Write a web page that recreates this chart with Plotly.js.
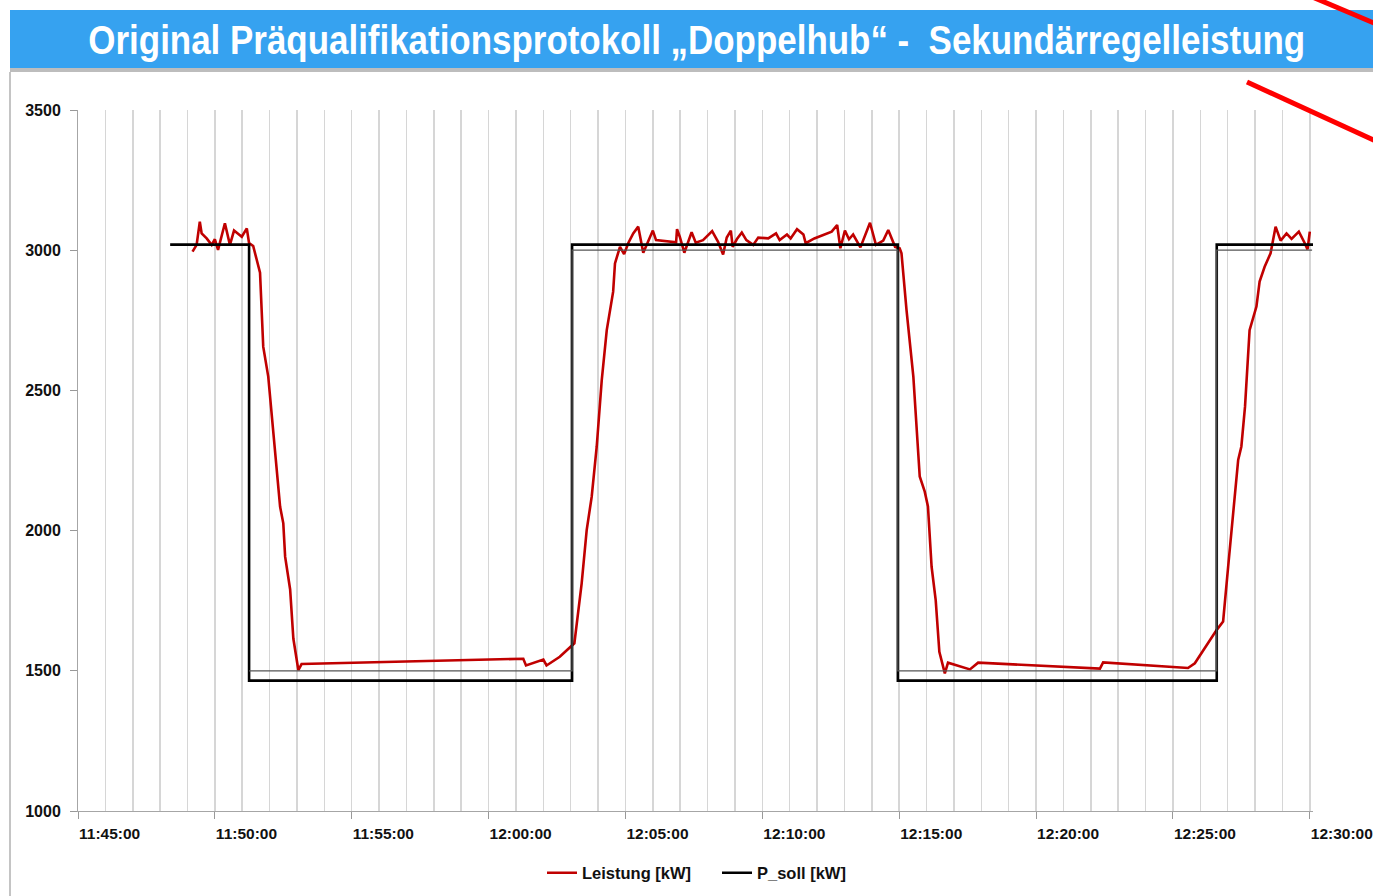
<!DOCTYPE html>
<html><head><meta charset="utf-8">
<script src="https://cdn.plot.ly/plotly-3.0.1.min.js"></script>
<style>html,body{margin:0;padding:0;background:#fff;} #chart{width:1373px;height:896px;}</style>
</head><body><div id="chart"></div>
<script>
const DAY = '2014-01-01 ';
const leistungZeit = ["11:49:11","11:49:20","11:49:27","11:49:31","11:49:42","11:49:53","11:50:00","11:50:07","11:50:22","11:50:33","11:50:42","11:50:59","11:51:10","11:51:15","11:51:24","11:51:39","11:51:46","11:51:57","11:52:23","11:52:30","11:52:34","11:52:45","11:52:52","11:52:58","11:53:03","11:53:10",
"12:01:16","12:01:22","12:02:00","12:02:07","12:02:36","12:03:08","12:03:24","12:03:35","12:03:46","12:03:57","12:04:08","12:04:19","12:04:26","12:04:33","12:04:37","12:04:48","12:04:57","12:05:06","12:05:17","12:05:28","12:05:39","12:05:50","12:06:00","12:06:07","12:06:51","12:06:53","12:06:59","12:07:09","12:07:25","12:07:34","12:07:50","12:08:10","12:08:23","12:08:34","12:08:42","12:08:51","12:08:55","12:09:04","12:09:15","12:09:25","12:09:40","12:09:51","12:10:13","12:10:30","12:10:38","12:10:54","12:11:02","12:11:16","12:11:30","12:11:35","12:11:54","12:12:32","12:12:44","12:12:51","12:13:01","12:13:10","12:13:19","12:13:35","12:13:56","12:14:09","12:14:25","12:14:36","12:14:51","12:15:01","12:15:05","12:15:16","12:15:31","12:15:45","12:15:56","12:16:03","12:16:11","12:16:20","12:16:28","12:16:40","12:16:47","12:17:35","12:17:53","12:22:20","12:22:27","12:25:33","12:25:48","12:26:36","12:26:50","12:27:01","12:27:12","12:27:23","12:27:30","12:27:38","12:27:48","12:28:03","12:28:10","12:28:21","12:28:34","12:28:38","12:28:45","12:28:56","12:29:09","12:29:20","12:29:36","12:29:49","12:29:55","12:30:00"];
const leistungKW = [2995,3019,3102,3060,3042,3019,3039,3001,3096,3019,3070,3048,3078,3025,3015,2920,2656,2549,2085,2026,1907,1790,1615,1555,1502,1524,
1543,1519,1540,1519,1550,1598,1812,2002,2121,2300,2537,2715,2787,2852,2953,3012,2986,3025,3060,3084,2991,3030,3070,3036,3028,3075,3048,2991,3064,3027,3036,3068,3030,2985,3045,3070,3012,3039,3063,3036,3019,3045,3042,3060,3036,3056,3042,3075,3056,3025,3042,3066,3090,3007,3070,3039,3056,3010,3098,3019,3034,3072,3012,3007,2989,2787,2549,2193,2139,2086,1871,1752,1568,1491,1529,1505,1529,1508,1530,1510,1527,1646,1676,1871,2050,2252,2300,2442,2715,2799,2888,2941,2989,3025,3084,3034,3060,3040,3066,3025,3003,3066];
const sollZeit = ["11:48:22","11:51:15","12:03:03","12:14:57","12:26:36","12:30:07"];
const sollKW = [3020,1465,3020,1465,3020,3020];
const refZeit = ["11:51:15","12:03:03","12:14:57","12:26:36","12:30:05"];
const refKW = [1500,3000,1500,3000,3000];
const yTicks = [1000,1500,2000,2500,3000,3500];
const seriesNames = ['Leistung [kW]','P_soll [kW]'];
const titleText = 'Original Präqualifikationsprotokoll „Doppelhub“ -\u00a0 Sekundärregelleistung';

const F = '"Liberation Sans",Arial,sans-serif';
const t = a => a.map(s => DAY + s);

const traces = [
  {x:t(leistungZeit), y:leistungKW, type:'scatter', mode:'lines', name:seriesNames[0],
   line:{color:'#C00000', width:2.6}},
  {x:t(sollZeit), y:sollKW, type:'scatter', mode:'lines', name:seriesNames[1],
   line:{color:'#000000', width:2.6, shape:'hv'}},
  {x:t(refZeit), y:refKW, type:'scatter', mode:'lines', showlegend:false, hoverinfo:'skip',
   line:{color:'#555555', width:1.2, shape:'hv'}}
];

const px = v => (v - 78) / 1235;
const py = v => (811 - v) / 701;

const layout = {
  width:1373, height:896,
  margin:{l:78, r:60, t:110, b:85, pad:0},
  paper_bgcolor:'#ffffff', plot_bgcolor:'#ffffff',
  showlegend:true,
  legend:{orientation:'h', xref:'container', yref:'container', x:717/1373, xanchor:'center', y:1 - 873/896, yanchor:'middle',
    entrywidth:130, entrywidthmode:'pixels',
    font:{family:F, size:16.5, weight:'bold', color:'#111'}, bgcolor:'rgba(0,0,0,0)'},
  xaxis:{type:'date', range:[DAY+'11:45:00', DAY+'12:30:07'], tick0:DAY+'11:45:00', dtick:300000,
    tickformat:'%H:%M:%S', ticks:'outside', ticklen:7, tickcolor:'#999', tickwidth:1,
    showline:true, linecolor:'#a6a6a6', linewidth:1, showgrid:true, gridcolor:'#d6d6d6', gridwidth:1.5,
    minor:{dtick:60000, showgrid:true, gridcolor:'#d6d6d6', gridwidth:1.5, ticks:''},
    ticklabelposition:'outside right', ticklabeloverflow:'allow', ticklabelstandoff:8,
    tickfont:{family:F, size:15.5, weight:'bold', color:'#111'},
    zeroline:false, fixedrange:true},
  yaxis:{range:[1000,3500], tickvals:yTicks, ticks:'outside', ticklen:7, tickcolor:'#999', tickwidth:1,
    showline:true, linecolor:'#a6a6a6', linewidth:1, showgrid:false, zeroline:false,
    ticklabelstandoff:6, tickfont:{family:F, size:16, weight:'bold', color:'#111'}, fixedrange:true},
  shapes:[
    {type:'rect', xref:'paper', yref:'paper', x0:px(10), x1:px(1400), y0:py(68), y1:py(10), fillcolor:'#36A2F0', line:{width:0}, layer:'above'},
    {type:'rect', xref:'paper', yref:'paper', x0:px(10), x1:px(1400), y0:py(72), y1:py(68), fillcolor:'#bdbdbd', line:{width:0}, layer:'above'},
    {type:'line', xref:'paper', yref:'paper', x0:px(10), x1:px(10), y0:py(72), y1:py(900), line:{color:'#c4c4c4', width:2}, layer:'above'},
    {type:'line', xref:'paper', yref:'paper', x0:px(1310), y0:py(-4), x1:px(1400), y1:py(34), line:{color:'#FF0000', width:5}, layer:'above'},
    {type:'line', xref:'paper', yref:'paper', x0:px(1247), y0:py(82), x1:px(1400), y1:py(152), line:{color:'#FF0000', width:5}, layer:'above'}
  ],
  annotations:[
    {text:titleText, xref:'paper', yref:'paper', x:px(697), y:py(40), xanchor:'center', yanchor:'middle', showarrow:false,
     font:{family:F, size:40, weight:'bold', color:'#ffffff'}}
  ]
};

Plotly.newPlot('chart', traces, layout, {displayModeBar:false, staticPlot:true}).then(() => {
  const el = document.querySelector('.annotation-text');
  if (el) {
    const bb = el.getBBox();
    const s = 1217 / bb.width;
    const cx = bb.x + bb.width / 2;
    el.setAttribute('transform', `translate(${cx},0) scale(${s},1) translate(${-cx},0)`);
  }
});
</script>
</body></html>
